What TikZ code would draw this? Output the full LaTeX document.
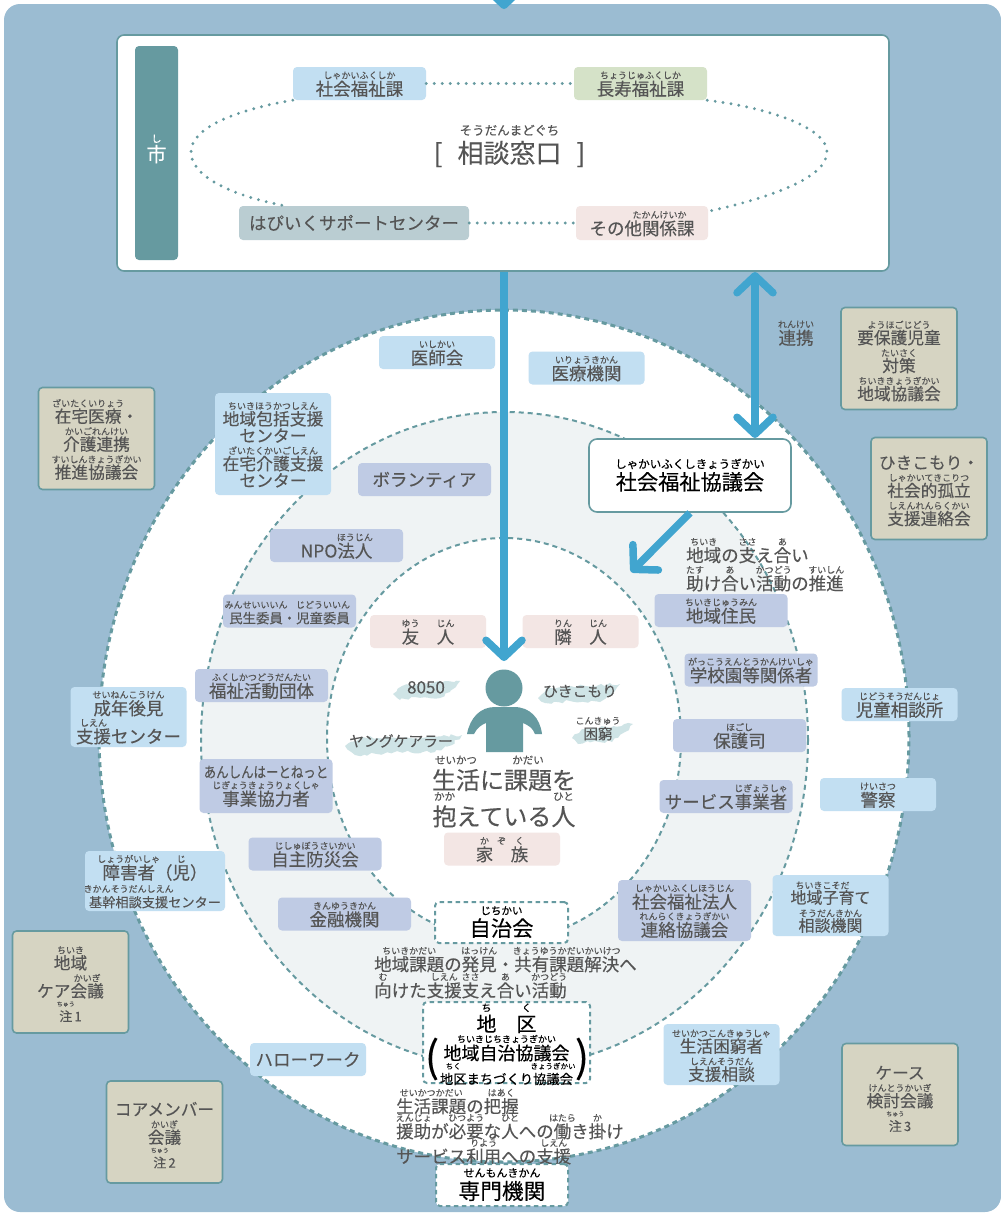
\documentclass[tikz,border=0pt]{standalone}
\usepackage{fontspec}
\usepackage{graphicx}
\usepackage{xcolor}
\setmainfont{Noto Sans CJK JP}[FakeBold=0.25]
\usetikzlibrary{arrows.meta, decorations.pathmorphing}

\definecolor{panelblue}{HTML}{9BBCD2}
\definecolor{tealline}{HTML}{669AA0}
\definecolor{bluefill}{HTML}{C2DFF2}
\definecolor{lavfill}{HTML}{BFCBE4}
\definecolor{pinkfill}{HTML}{F3E6E4}
\definecolor{greenfill}{HTML}{D5E2C8}
\definecolor{greyfill}{HTML}{BACDD2}
\definecolor{beigefill}{HTML}{D6D4C2}
\definecolor{midfill}{HTML}{EFF3F4}
\definecolor{brushfill}{HTML}{CFE4E6}
\definecolor{arrowblue}{HTML}{41A5CF}
\definecolor{txtgrey}{HTML}{555555}

% font size with lines stacked by their own height
\newcommand{\fs}[1]{\fontsize{#1}{0}\selectfont\lineskip=0pt}
\newcommand{\zs}{\leavevmode\vrule width0pt height.88em depth.12em}
% furigana over a base word
\newdimen\rbraise
\newcommand{\rb}[3][9]{\leavevmode{\ifdim1em<16pt \rbraise=15pt \else \rbraise=\dimexpr1.3em-6pt\relax\fi\setbox0=\hbox{#2}\rlap{\hbox to\wd0{\hss\raise\rbraise\hbox{\fontsize{#1}{0}\selectfont #3}\hss}}\vrule width0pt height26pt depth.12em\box0}}

\tikzset{
    label/.style={inner sep=0pt, align=center, text=txtgrey, font=\fs{17.5}},
    box/.style={label, rounded corners=4pt, minimum width=116pt, minimum height=33pt},
    bluebox/.style={box, fill=bluefill},
    lavbox/.style={box, fill=lavfill, minimum width=133pt},
    pinkbox/.style={box, fill=pinkfill},
    beigebox/.style={box, fill=beigefill, draw=tealline, line width=1.6pt, minimum width=116pt, minimum height=102pt, font=\fs{16.7}},
    beigetext/.style={label, font=\fs{16.7}},
    dashbox/.style={box, fill=white, text=black, draw=tealline, line width=2pt, dash pattern=on 4.5pt off 3.5pt},
    ring/.style={draw=tealline, dash pattern=on 5pt off 4pt, line width=2pt},
    dotline/.style={draw=tealline, line width=3.2pt, line cap=round, dash pattern=on 0pt off 8pt},
    brush/.style={fill=brushfill, decorate, decoration={random steps, segment length=4pt, amplitude=1.6pt}},
    bluearrow/.style={draw=arrowblue, line width=7.5pt, -{Straight Barb[length=17pt,width=36pt,line width=7.5pt,round]}},
    bothblue/.style={draw=arrowblue, line width=7.5pt, {Straight Barb[length=17pt,width=36pt,line width=7.5pt,round]}-{Straight Barb[length=17pt,width=36pt,line width=7.5pt,round]}}
}

\begin{document}
\begin{tikzpicture}[x=1pt, y=-1pt]
    \useasboundingbox (0,0) rectangle (1001,1213);
    % Panel and rings
    \fill [panelblue, rounded corners=16pt] (4,4) rectangle (1001,1212);
    \filldraw [ring, fill=white, line width=3pt] (504,736) ellipse (405pt and 426pt);
    \filldraw [ring, fill=midfill] (504.5,740) ellipse (303.5pt and 328pt);
    \filldraw [ring, fill=white] (504,739) ellipse (177pt and 201pt);

    % City office
    \node [rounded corners=7pt, draw=tealline, fill=white, line width=1.6pt, minimum width=772pt, minimum height=236pt] (cityBox) at (503,153) {};
    \node [rounded corners=4pt, fill=tealline, minimum width=43pt, minimum height=214pt] (cityBar) at (156.5,153) {};
    \node [label, text=white, font=\fs{20}] (cityText) at (156.5,149) {{\fs{10}し}\\[2pt]市};
    \node [box, fill=bluefill, minimum width=133pt] (kaShakai) at (359.5,83.5) {\rb{社会福祉課}{しゃかいふくしか}};
    \node [box, fill=greenfill, minimum width=133pt] (kaChoju) at (640.5,83.5) {\rb{長寿福祉課}{ちょうじゅふくしか}};
    \node [box, fill=greyfill, minimum width=230pt, minimum height=34pt] (kaHapi) at (354,223) {\zs はぴいくサポートセンター};
    \node [box, fill=pinkfill, minimum width=132pt, minimum height=34pt] (kaSonota) at (642,223) {その\rb{他関係課}{たかんけいか}};
    \node [label, font=\fs{26}] (madoguchi) at (509.5,146) {[\hspace{15pt}\rb[12.5]{相談窓口}{そうだんまどぐち}\hspace{15pt}]};
    \draw [dotline] (kaShakai.east) -- (kaChoju.west);
    \draw [dotline] (kaHapi.east) -- (kaSonota.west);
    \draw [dotline] (kaShakai.south west) .. controls (235,110) and (191,128) .. (191,152) .. controls (191,175) and (228,195) .. (kaHapi.166.5);
    \draw [dotline] (kaChoju.south east) .. controls (770,108) and (827,128) .. (827,152) .. controls (827,180) and (760,200) .. (kaSonota.10);

    % Outer ring
    \node [bluebox] (ishikai) at (437,352.5) {\rb{医師会}{いしかい}};
    \node [bluebox] (iryo) at (586.5,368) {\rb{医療機関}{いりょうきかん}};
    \node [bluebox, minimum height=102pt, font=\fs{16.8}] (hokatsu) at (273,444) {\rb{地域包括支援}{ちいきほうかつしえん}\\\zs センター\\\rb{在宅介護支援}{ざいたくかいごしえん}\\\zs センター};
    \node [bluebox, minimum height=60pt] (kouken) at (128.5,717) {\rb{成年後見}{せいねんこうけん}\\\rb{支援}{しえん}センター};
    \node [bluebox, minimum width=140pt, minimum height=60pt] (shogai) at (155,881) {\rb{障害者}{しょうがいしゃ}（\rb{児}{じ}）\\{\fs{13.2}\rb{基幹相談支援}{きかんそうだんしえん}センター}};
    \node [bluebox] (hello) at (308,1059.5) {\zs ハローワーク};
    \node [bluebox] (jido) at (899.5,704.5) {\rb{児童相談所}{じどうそうだんじょ}};
    \node [bluebox] (keisatsu) at (878,794.5) {\rb{警察}{けいさつ}};
    \node [bluebox, minimum height=61pt, font=\fs{16}] (kosodate) at (830.5,905.5) {\rb{地域子育}{ちいきこそだ}て\\\rb{相談機関}{そうだんきかん}};
    \node [bluebox, minimum height=61pt, font=\fs{16.7}] (konkyu) at (721.5,1054.5) {\rb{生活困窮者}{せいかつこんきゅうしゃ}\\\rb{支援相談}{しえんそうだん}};

    % Middle ring
    \node [lavbox] (volunteer) at (424.5,479.5) {\zs ボランティア};
    \node [lavbox] (npo) at (336.5,545.5) {NPO\rb{法人}{ほうじん}};
    \node [lavbox, font=\fs{13.4}] (minsei) at (289.5,611) {\rb{民生委員}{みんせいいいん}・\rb{児童委員}{じどういいん}};
    \node [lavbox] (dantai) at (261.5,685.5) {\rb{福祉活動団体}{ふくしかつどうだんたい}};
    \node [lavbox, minimum height=54pt] (anshin) at (266,786) {{\fs{15}\zs\scalebox{.83}[1]{あんしんはーとねっと}}\\\rb{事業協力者}{じぎょうきょうりょくしゃ}};
    \node [lavbox] (bosai) at (315,854) {\rb{自主防災会}{じしゅぼうさいかい}};
    \node [lavbox] (kinyu) at (344.5,914) {\rb{金融機関}{きんゆうきかん}};
    \node [lavbox] (jumin) at (721,610.5) {\rb{地域住民}{ちいきじゅうみん}};
    \node [lavbox] (gakko) at (751,670) {\rb{学校園等関係者}{がっこうえんとうかんけいしゃ}};
    \node [lavbox] (hogoshi) at (739.5,735.5) {\rb{保護司}{ほごし}};
    \node [lavbox] (jigyo) at (726,796.5) {サービス\rb{事業者}{じぎょうしゃ}};
    \node [lavbox, minimum height=61pt] (hojin) at (684.5,910.5) {\rb{社会福祉法人}{しゃかいふくしほうじん}\\\rb{連絡協議会}{れんらくきょうぎかい}};

    % Meetings outside the rings
    \node [beigebox] (zaitaku) at (96.5,438.5) {\rb{在宅医療}{ざいたくいりょう}・\\\rb{介護連携}{かいごれんけい}\\\rb{推進協議会}{すいしんきょうぎかい}};
    \node [beigebox] (yoho) at (899,358.5) {};
    \node [beigetext] (yohoText) at (899,360) {\rb{要保護児童}{ようほごじどう}\\\rb{対策}{たいさく}\\\rb{地域協議会}{ちいききょうぎかい}};
    \node [beigebox] (koritsu) at (929,488.5) {};
    \node [beigetext] (koritsuText) at (929,490.5) {\zs ひきこもり・\\\rb{社会的孤立}{しゃかいてきこりつ}\\\rb{支援連絡会}{しえんれんらくかい}};
    \node [beigebox] (care) at (70.5,982) {};
    \node [beigetext] (careText) at (70.5,983) {\rb{地域}{ちいき}\\ケア\rb{会議}{かいぎ}\\[-4pt]{\fs{13}\rb[6]{注}{ちゅう}\,1}};
    \node [beigebox] (core) at (164.5,1132) {};
    \node [beigetext] (coreText) at (164.5,1135) {\zs コアメンバー\\\rb{会議}{かいぎ}\\[-4pt]{\fs{13}\rb[6]{注}{ちゅう}\,2}};
    \node [beigebox] (casemtg) at (900,1094.5) {};
    \node [beigetext] (caseText) at (900,1098.5) {\zs ケース\\\rb{検討会議}{けんとうかいぎ}\\[-4pt]{\fs{13}\rb[6]{注}{ちゅう}\,3}};
    \node [label] (renkei) at (796,332.5) {\rb{連携}{れんけい}};

    % Council and its activities
    \node [box, fill=white, text=black, draw=tealline, line width=1.6pt, rounded corners=8pt, minimum width=202pt, minimum height=73pt, font=\fs{21.2}] (shakyo) at (690,475.5) {\rb[11.5]{社会福祉協議会}{しゃかいふくしきょうぎかい}};
    \node [label, anchor=west, align=left] (sasae) at (686,564) {\rb{地域}{ちいき}の\rb{支}{ささ}え\rb{合}{あ}い\\\rb{助}{たす}け\rb{合}{あ}い\rb{活動}{かつどう}の\rb{推進}{すいしん}};

    % Person in the middle
    \fill [brush] (393,694) -- (402,686) -- (425,683) -- (460,681) -- (450,692) -- (440,698) -- (415,697) -- (400,700) -- cycle;
    \fill [brush] (538,698) -- (548,688) -- (585,686) -- (620,684) -- (612,695) -- (600,702) -- (570,701) -- (545,703) -- cycle;
    \fill [brush] (572,738) -- (582,729) -- (605,727) -- (633,724) -- (625,732) -- (612,742) -- (595,741) -- (578,744) -- cycle;
    \fill [brush] (345,746) -- (362,737) -- (420,738) -- (462,735) -- (452,745) -- (435,752) -- (400,752) -- (355,755) -- cycle;
    \node [circle, fill=tealline, minimum size=37pt, inner sep=0pt] (head) at (504,688) {};
    \fill [tealline] (467,734) .. controls (470,718) and (480,707) .. (495,707) -- (514,707) .. controls (530,707) and (540,718) .. (542,734) -- (535,734) .. controls (533,728) and (528,725) .. (523,723) -- (523,752) -- (486,752) -- (486,723) .. controls (481,725) and (477,728) .. (474,734) -- cycle;
    \node [pinkbox] (yujin) at (428,631.5) {\rb{友}{ゆう}　\rb{人}{じん}};
    \node [pinkbox] (rinjin) at (580.5,631.5) {\rb{隣}{りん}　\rb{人}{じん}};
    \node [pinkbox] (kazoku) at (502,849) {\rb{家}{か}　\rb{族}{ぞ\hspace{9pt}く\hspace{18pt}}};
    \node [label, font=\fs{17}] (n8050) at (426,687) {\zs 8050};
    \node [label, font=\fs{14.8}] (young) at (401,741) {\zs ヤングケアラー};
    \node [label, font=\fs{14.8}] (hiki) at (580,691) {\zs ひきこもり};
    \node [label, font=\fs{14.6}] (konkyuText) at (598,727) {\rb{困窮}{こんきゅう}};
    \node [label, font=\fs{24}] (kadai) at (504,792) {\rb[10.5]{生活}{せいかつ}に\rb[10.5]{課題}{かだい}を\\\rb[10.5]{抱}{かか}えている\rb[10.5]{人}{ひと}};

    % District level
    \node [dashbox, minimum width=133pt, minimum height=41pt, font=\fs{21.3}] (jichikai) at (501.5,922.5) {\rb[10.5]{自治会}{じちかい}};
    \node [label, anchor=west, align=left] (hakken) at (374,972) {\rb{地域課題}{ちいきかだい}の\rb{発見}{はっけん}・\rb{共有課題解決}{きょうゆうかだいかいけつ}へ\\[-2pt]\rb{向}{む}けた\rb{支援}{しえん}\rb{支}{ささ}え\rb{合}{あ}い\rb{活動}{かつどう}};
    \node [dashbox, minimum width=167pt, minimum height=81pt] (chiku) at (506.5,1042.5) {};
    \node [label, text=black] (chikuText) at (506.5,1044.5) {{\fs{20}\rb[10]{地}{ち}　\rb[10]{区}{く}}\\{\fs{18}\rb{地域自治協議会}{ちいきじちきょうぎかい}}\\[-4pt]{\fs{13.3}\rb[7.5]{地区}{ちく}まちづくり\rb[7.5]{協議会}{きょうぎかい}}};
    \node [label, text=black, font=\fs{42}] (lparen) at (432,1059) {(};
    \node [label, text=black, font=\fs{42}] (rparen) at (582,1059) {)};
    \node [label, anchor=west, align=left] (haaku) at (396,1126) {\rb{生活課題}{せいかつかだい}の\rb{把握}{はあく}\\[-3pt]\rb{援助}{えんじょ}が\rb{必要}{ひつよう}な\rb{人}{ひと}への\rb{働}{はたら}き\rb{掛}{か}け\\[-3pt]サービス\rb{利用}{りよう}への\rb{支援}{しえん}};
    \node [dashbox, minimum width=132pt, minimum height=42pt, font=\fs{21.7}] (senmon) at (502,1185) {\rb[11]{専門機関}{せんもんきかん}};

    % Arrows
    \coordinate (topStart) at (504,-30);
    \coordinate (topTip)   at (504,9);
    \coordinate (personTip) at (504,661);
    \coordinate (linkTop)  at (755,272);
    \coordinate (linkDown) at (755,438);
    \coordinate (sasaeTip) at (631,572);
    \draw [bluearrow] (topStart) -- (topTip);
    \draw [bluearrow] (cityBox.south -| head.north) -- (personTip);
    \draw [bothblue] (linkTop) -- (linkDown);
    \draw [bluearrow] (shakyo.south) -- (sasaeTip);
\end{tikzpicture}
\end{document}
